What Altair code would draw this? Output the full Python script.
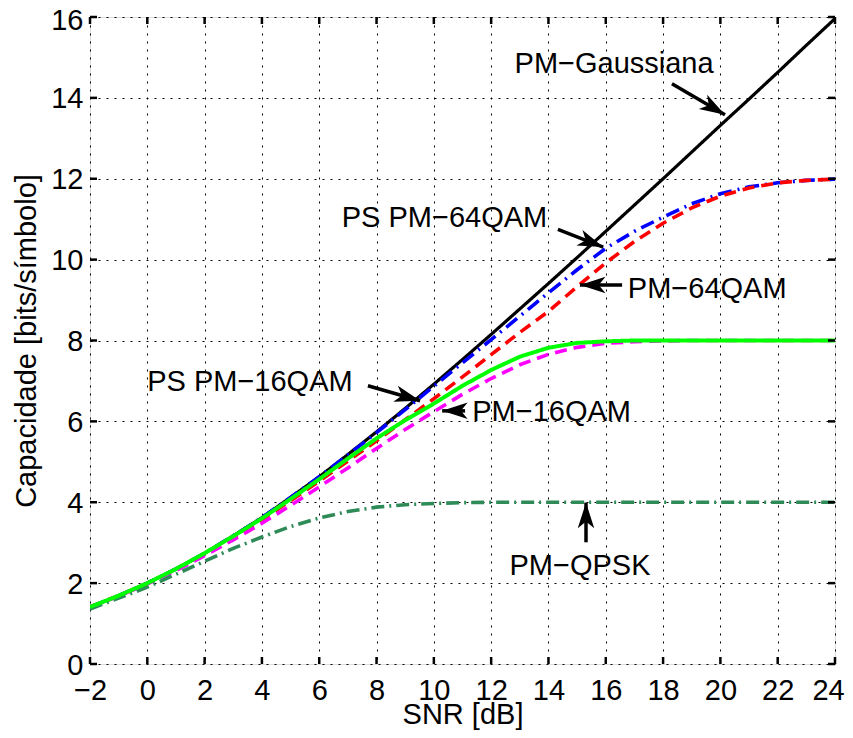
import math
import altair as alt
import pandas as pd

# ---------------- data ----------------
snr_db = list(range(-2, 25))

cap_gauss = [1.41, 1.69, 2.00, 2.35, 2.74, 3.17, 3.62, 4.12, 4.63, 5.18, 5.74, 6.32, 6.92,
             7.53, 8.15, 8.78, 9.41, 10.05, 10.70, 11.35, 12.00, 12.66, 13.32, 13.97, 14.63,
             15.30, 15.96]
cap_ps64 = [1.41, 1.69, 2.00, 2.35, 2.74, 3.17, 3.62, 4.12, 4.63, 5.17, 5.72, 6.29, 6.87,
            7.45, 8.02, 8.60, 9.18, 9.75, 10.28, 10.70, 11.05, 11.38, 11.63, 11.80, 11.90,
            11.96, 11.99]
cap_64 = [1.41, 1.69, 1.99, 2.34, 2.72, 3.13, 3.57, 4.04, 4.52, 5.02, 5.52, 6.04, 6.56,
          7.10, 7.65, 8.20, 8.72, 9.33, 9.92, 10.45, 10.90, 11.28, 11.57, 11.77, 11.90,
          11.96, 11.99]
cap_ps16 = [1.41, 1.69, 2.00, 2.35, 2.74, 3.16, 3.60, 4.08, 4.57, 5.08, 5.58, 6.03, 6.44,
            6.88, 7.27, 7.60, 7.82, 7.94, 7.98, 8.00, 8.00, 8.00, 8.00, 8.00, 8.00, 8.00, 8.00]
cap_16 = [1.40, 1.68, 1.98, 2.31, 2.68, 3.07, 3.48, 3.92, 4.38, 4.85, 5.33, 5.80, 6.24,
          6.67, 7.06, 7.40, 7.66, 7.83, 7.93, 7.97, 7.99, 8.00, 8.00, 8.00, 8.00, 8.00, 8.00]
cap_qpsk = [1.36, 1.63, 1.90, 2.22, 2.54, 2.86, 3.14, 3.40, 3.61, 3.77, 3.88, 3.94, 3.97,
            3.99, 4.00, 4.00, 4.00, 4.00, 4.00, 4.00, 4.00, 4.00, 4.00, 4.00, 4.00, 4.00, 4.00]

x_ticks = list(range(-2, 25, 2))
y_ticks = list(range(0, 17, 2))

labels = ["PM\u2212Gaussiana", "PS PM\u221264QAM", "PM\u221264QAM",
          "PS PM\u221216QAM", "PM\u221216QAM", "PM\u2212QPSK"]
label_x = [16.29, 10.37, 19.54, 3.58, 14.11, 15.10]
label_y = [14.84, 11.02, 9.27, 6.98, 6.24, 2.42]
arrow_x0 = [18.31, 14.33, 16.57, 7.70, 11.09, 15.31]
arrow_y0 = [14.35, 10.75, 9.37, 6.88, 6.26, 3.01]
arrow_x1 = [20.16, 15.91, 15.10, 9.52, 10.29, 15.31]
arrow_y1 = [13.58, 10.31, 9.37, 6.51, 6.26, 3.99]

# ---------------- layout / style ----------------
W, H = 745, 647
XDOM, YDOM = [-2, 24], [0, 16]
FONT = "Liberation Sans"
FS = 29

series = [
    # name, values, color, dash, width
    ("gauss", cap_gauss, "#000000", [1, 0], 3.2),
    ("ps64", cap_ps64, "#0000ff", [14, 6, 2, 6], 3.6),
    ("qam64", cap_64, "#ff0000", [12, 7], 3.6),
    ("qam16", cap_16, "#ff00ff", [12, 7], 3.6),
    ("qpsk", cap_qpsk, "#2e8b57", [13, 5, 2, 5], 3.6),
    ("ps16", cap_ps16, "#00ff00", [1, 0], 4.0),
]

rows = []
for name, vals, *_ in series:
    for x, y in zip(snr_db, vals):
        rows.append({"snr": x, "cap": y, "serie": name})
df = pd.DataFrame(rows)

x_enc = alt.X(
    "snr:Q",
    scale=alt.Scale(domain=XDOM, nice=False, zero=False),
    axis=alt.Axis(
        values=x_ticks, grid=True, gridColor="black", gridDash=[2, 6], gridWidth=1,
        gridOpacity=1, domain=False, ticks=False, tickSize=0, labelFont=FONT,
        labelFontSize=FS, labelColor="black", labelPadding=12, labelFlush=False,
        labelOverlap=False, format="d",
        labelOffset={"condition": {"test": "datum.value === 24", "value": -7}, "value": 0},
        title="SNR [dB]", titleFont=FONT, titleFontSize=FS, titleFontWeight="normal",
        titleColor="black", titleX=W / 2, titleY=59, titleAlign="center",
        titleBaseline="alphabetic",
    ),
)
y_enc = alt.Y(
    "cap:Q",
    scale=alt.Scale(domain=YDOM, nice=False, zero=False),
    axis=alt.Axis(
        values=y_ticks, grid=True, gridColor="black", gridDash=[2, 6], gridWidth=1,
        gridOpacity=1, domain=False, ticks=False, tickSize=0, labelFont=FONT,
        labelFontSize=FS, labelColor="black", labelPadding=7, labelFlush=False,
        labelOverlap=False, format="d",
        labelOffset={"condition": {"test": "datum.value === 16", "value": 3}, "value": 1},
        title="Capacidade [bits/símbolo]", titleFont=FONT, titleFontSize=FS,
        titleFontWeight="normal", titleColor="black", titleX=-55, titleY=H / 2,
        titleAlign="center", titleBaseline="alphabetic", titleAngle=270,
    ),
)

layers = []
for name, vals, color, dash, width in series:
    layers.append(
        alt.Chart(df).transform_filter(alt.datum.serie == name)
        .mark_line(color=color, strokeDash=dash, strokeWidth=width, clip=True)
        .encode(x=x_enc, y=y_enc, order="snr:Q")
    )

# inward ticks (MATLAB style box with ticks on all sides)
xt = pd.DataFrame({"snr": x_ticks})
yt = pd.DataFrame({"cap": y_ticks})
TL = 7
layers += [
    alt.Chart(xt).mark_rule(color="black", strokeWidth=2.5)
    .encode(x=x_enc, y=alt.value(H), y2=alt.value(H - TL)),
    alt.Chart(xt).mark_rule(color="black", strokeWidth=2.5)
    .encode(x=x_enc, y=alt.value(0), y2=alt.value(TL)),
    alt.Chart(yt).mark_rule(color="black", strokeWidth=2.5)
    .encode(y=y_enc, x=alt.value(0), x2=alt.value(TL)),
    alt.Chart(yt).mark_rule(color="black", strokeWidth=2.5)
    .encode(y=y_enc, x=alt.value(W), x2=alt.value(W - TL)),
]

# annotations
ann = pd.DataFrame({"snr": label_x, "cap": label_y, "label": labels})
layers.append(
    alt.Chart(ann).mark_text(font=FONT, fontSize=FS, color="black", align="center",
                             baseline="middle")
    .encode(x=x_enc, y=y_enc, text="label:N")
)

px_x = W / (XDOM[1] - XDOM[0])
px_y = H / (YDOM[1] - YDOM[0])
angles = []
for x0, y0, x1, y1 in zip(arrow_x0, arrow_y0, arrow_x1, arrow_y1):
    dx = (x1 - x0) * px_x
    dy = -(y1 - y0) * px_y
    angles.append(math.degrees(math.atan2(dx, -dy)) % 360)

arr = pd.DataFrame({"snr": arrow_x0, "cap": arrow_y0, "snr2": arrow_x1,
                    "cap2": arrow_y1})
head = pd.DataFrame({"snr": arrow_x1, "cap": arrow_y1, "angle": angles})
layers.append(
    alt.Chart(arr).mark_rule(color="black", strokeWidth=3.5)
    .encode(x=x_enc, y=y_enc, x2="snr2:Q", y2="cap2:Q")
)
layers.append(
    alt.Chart(head).mark_point(shape="M0,0L-0.55,1.7L0,1.25L0.55,1.7Z", filled=True,
                               size=900, color="black", opacity=1, strokeWidth=0)
    .encode(x=x_enc, y=y_enc, angle=alt.Angle("angle:Q", scale=None))
)

chart = (
    alt.layer(*layers)
    .properties(width=W, height=H, autosize="none",
                padding={"left": 82, "top": 9, "right": 10, "bottom": 66})
    .configure_view(stroke="black", strokeWidth=3)
    .configure(background="white")
)

chart.save("out.html", embed_options={"renderer": "svg", "actions": False})
